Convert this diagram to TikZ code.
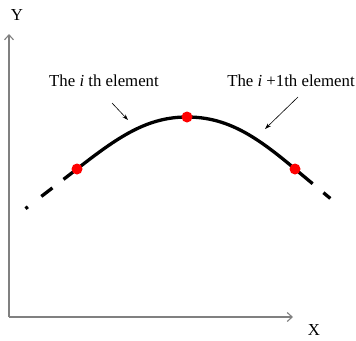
\documentclass[tikz,border=0pt]{standalone}
\usepackage{fontspec}
\setmainfont{Liberation Serif}
\usetikzlibrary{arrows.meta, positioning}
\tikzset{
  axis/.style={draw=gray, line width=1.1pt, -{Straight Barb[length=5pt,width=9pt]}},
  elemcurve/.style={line width=3.3pt, black},
  joint/.style={circle, fill=red, inner sep=0pt, minimum size=11pt},
  pointer/.style={-{Stealth[length=6pt,width=4pt]}, line width=0.6pt},
  caption/.style={font=\fontsize{16.8}{20}\selectfont, inner sep=1pt}
}

\begin{document}
\begin{tikzpicture}[x=1pt, y=-1pt]
  \useasboundingbox (0,0) rectangle (356,340);
  % axes
  \coordinate (origin) at (9,317);
  \coordinate (ytip)   at (9,34);
  \coordinate (xtip)   at (293,317);
  \draw[axis] (origin) -- (ytip);
  \draw[axis] (origin) -- (xtip);
  \node[caption] (ylab) at (17,15)  {Y};
  \node[caption] (xlab) at (314,330) {X};

  % element curve
  \coordinate (p1)   at (77,169);
  \coordinate (p2)   at (187,117);
  \coordinate (p3)   at (295,169);
  \coordinate (lend) at (25,209);
  \coordinate (rend) at (331,199);
  \draw[elemcurve] (p1) .. controls (118,137) and (147,117) .. (p2)
    .. controls (227,117) and (256,136) .. (p3);
  \draw[elemcurve, dash pattern=on 17pt off 14pt on 14pt off 17pt on 3pt] (p1) -- (lend);
  \draw[elemcurve, dash pattern=on 23pt off 14pt on 9pt] (p3) -- (rend);
  \foreach \p in {p1,p2,p3}
    \node[joint] at (\p) {};

  % labels
  \node[caption] (lab1) at (104,81) {The \textit{i} th element};
  \node[caption] (lab2) at (291,81) {The \textit{i} +1th element};
  \coordinate (from1) at (112,103);
  \coordinate (tip1)  at (128,120);
  \coordinate (from2) at (298,97);
  \coordinate (tip2)  at (265,129);
  \draw[pointer] (from1) -- (tip1);
  \draw[pointer] (from2) -- (tip2);
\end{tikzpicture}
\end{document}
